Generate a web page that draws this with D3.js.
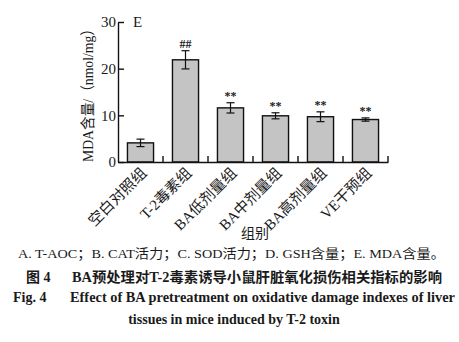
<!DOCTYPE html>
<html>
<head>
<meta charset="utf-8">
<script src="https://cdn.jsdelivr.net/npm/d3@7"></script>
<style>
  html, body { margin: 0; padding: 0; background: #fff; }
  svg { display: block; }
  text { fill: #1a1a1a; }
</style>
</head>
<body>
<script>
// Groups and MDA content (nmol/mg), mean ± SD
const categories = ["空白对照组", "T-2毒素组", "BA低剂量组", "BA中剂量组", "BA高剂量组", "VE干预组"];
const means = [4.1, 21.9, 11.6, 9.9, 9.7, 9.1];
const errors = [0.8, 1.95, 1.1, 0.65, 1.05, 0.35];
const marks = ["", "##", "**", "**", "**", "**"];
const yTicks = [0, 10, 20, 30];

const W = 459, H = 342;
const serif = "'Liberation Serif', 'Times New Roman', 'Noto Sans CJK SC', serif";

const svg = d3.select("body").append("svg")
  .attr("width", W).attr("height", H);

const x = d3.scaleBand()
  .domain(categories)
  .range([118, 388])
  .paddingInner(0.42)
  .paddingOuter(0.21);

const y = d3.scaleLinear().domain([0, 30]).range([162, 22]);

const g = svg.append("g");

// bars
g.selectAll("rect.bar")
  .data(categories)
  .join("rect")
  .attr("class", "bar")
  .attr("x", d => x(d))
  .attr("y", (d, i) => y(means[i]))
  .attr("width", x.bandwidth())
  .attr("height", (d, i) => y(0) - y(means[i]))
  .attr("fill", "#c4c4c4")
  .attr("stroke", "#111")
  .attr("stroke-width", 1.4);

// error bars
const cap = 4;
const eb = g.selectAll("g.err").data(categories).join("g").attr("class", "err")
  .attr("transform", d => `translate(${x(d) + x.bandwidth() / 2},0)`);
eb.append("line")
  .attr("y1", (d, i) => y(means[i] + errors[i]))
  .attr("y2", (d, i) => y(means[i] - errors[i]))
  .attr("stroke", "#111").attr("stroke-width", 1.2);
eb.append("line")
  .attr("x1", -cap).attr("x2", cap)
  .attr("y1", (d, i) => y(means[i] + errors[i]))
  .attr("y2", (d, i) => y(means[i] + errors[i]))
  .attr("stroke", "#111").attr("stroke-width", 1.2);
eb.append("line")
  .attr("x1", -cap).attr("x2", cap)
  .attr("y1", (d, i) => y(means[i] - errors[i]))
  .attr("y2", (d, i) => y(means[i] - errors[i]))
  .attr("stroke", "#111").attr("stroke-width", 1.2);

// significance marks
eb.append("text")
  .attr("y", (d, i) => y(means[i] + errors[i]) - 3)
  .attr("text-anchor", "middle")
  .attr("font-family", serif)
  .attr("font-weight", "bold")
  .attr("font-size", 12)
  .text((d, i) => marks[i]);

// y axis with inward ticks
const yAxis = g.append("g")
  .attr("transform", `translate(${x.range()[0]},0)`)
  .call(d3.axisLeft(y).tickValues(yTicks).tickSize(-6).tickSizeOuter(0).tickPadding(3));
yAxis.select(".domain").attr("stroke", "#111").attr("stroke-width", 1.4);
yAxis.selectAll(".tick line").attr("stroke", "#111").attr("stroke-width", 1.4);
yAxis.selectAll(".tick text")
  .attr("font-family", serif).attr("font-size", 15).attr("fill", "#1a1a1a")
  .attr("x", -2);

// x axis: labels under bars, ticks between groups
const xAxis = g.append("g")
  .attr("transform", `translate(0,${y(0)})`)
  .call(d3.axisBottom(x).tickSize(0).tickSizeOuter(0));
xAxis.select(".domain").attr("stroke", "#111").attr("stroke-width", 1.4);
xAxis.selectAll(".tick text")
  .attr("font-family", serif).attr("font-size", 15).attr("fill", "#1a1a1a")
  .attr("text-anchor", "end")
  .attr("dy", 0).attr("y", 0)
  .attr("transform", "translate(7,12) rotate(-45)");

const step = x.step();
const bounds = categories.map(d => x(d) + x.bandwidth() + step * x.paddingInner() / 2);
g.selectAll("line.xtick").data(bounds).join("line")
  .attr("class", "xtick")
  .attr("x1", d => d).attr("x2", d => d)
  .attr("y1", y(0)).attr("y2", y(0) - 6)
  .attr("stroke", "#111").attr("stroke-width", 1.4);

// panel letter
g.append("text").attr("x", 133).attr("y", 27)
  .attr("font-family", serif).attr("font-size", 15).text("E");

// axis titles
g.append("text")
  .attr("transform", "translate(93,92) rotate(-90)")
  .attr("text-anchor", "middle")
  .attr("font-family", serif).attr("font-size", 15)
  .attr("textLength", 140).attr("lengthAdjust", "spacingAndGlyphs")
  .text("MDA含量/（nmol/mg）");

g.append("text")
  .attr("x", 255).attr("y", 238)
  .attr("text-anchor", "middle")
  .attr("font-family", serif).attr("font-size", 14)
  .text("组别");

// caption
svg.append("text").attr("x", 18).attr("y", 258)
  .attr("font-family", serif).attr("font-size", 13)
  .attr("textLength", 427).attr("lengthAdjust", "spacingAndGlyphs")
  .text("A. T-AOC；B. CAT活力；C. SOD活力；D. GSH含量；E. MDA含量。");

svg.append("text").attr("x", 26).attr("y", 282)
  .attr("font-family", serif).attr("font-size", 14).attr("font-weight", "bold")
  .text("图 4");
svg.append("text").attr("x", 72).attr("y", 282)
  .attr("font-family", serif).attr("font-size", 14).attr("font-weight", "bold")
  .attr("textLength", 370).attr("lengthAdjust", "spacingAndGlyphs")
  .text("BA预处理对T-2毒素诱导小鼠肝脏氧化损伤相关指标的影响");

svg.append("text").attr("x", 13).attr("y", 302)
  .attr("font-family", serif).attr("font-size", 14).attr("font-weight", "bold")
  .text("Fig. 4");
svg.append("text").attr("x", 70).attr("y", 302)
  .attr("font-family", serif).attr("font-size", 14).attr("font-weight", "bold")
  .attr("textLength", 385).attr("lengthAdjust", "spacingAndGlyphs")
  .text("Effect of BA pretreatment on oxidative damage indexes of liver");
svg.append("text").attr("x", 234).attr("y", 324)
  .attr("text-anchor", "middle")
  .attr("font-family", serif).attr("font-size", 14).attr("font-weight", "bold")
  .text("tissues in mice induced by T-2 toxin");
</script>
</body>
</html>
